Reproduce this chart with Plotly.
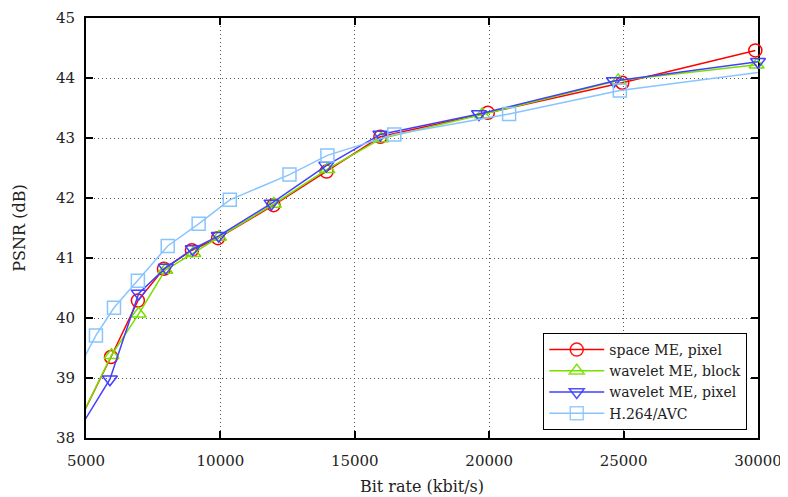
import plotly.graph_objects as go

# ---- data ----
space_pixel_x = [4000, 5930, 6930, 7900, 8940, 9910, 11980, 13950, 15950, 19950, 24950, 29900]
space_pixel_y = [37.60, 39.35, 40.29, 40.82, 41.13, 41.33, 41.88, 42.44, 43.02, 43.42, 43.92, 44.46]

wavelet_block_x = [4000, 5950, 6960, 7950, 8990, 9950, 11990, 13980, 15980, 19740, 24800, 29950]
wavelet_block_y = [37.60, 39.38, 40.07, 40.80, 41.08, 41.35, 41.90, 42.48, 42.99, 43.39, 43.96, 44.22]

wavelet_pixel_x = [4000, 5890, 6960, 7970, 8970, 9940, 11900, 13940, 15950, 19620, 24640, 30000]
wavelet_pixel_y = [37.60, 38.98, 40.41, 40.84, 41.15, 41.37, 41.91, 42.54, 43.06, 43.40, 43.95, 44.27]

h264_x = [4000, 5370, 6040, 6930, 8040, 9190, 10350, 12570, 13980, 16470, 20740, 24860, 32000]
h264_y = [38.55, 39.71, 40.17, 40.62, 41.20, 41.57, 41.97, 42.39, 42.71, 43.06, 43.40, 43.79, 44.21]

x_ticks = [5000, 10000, 15000, 20000, 25000, 30000]
y_ticks = [38, 39, 40, 41, 42, 43, 44, 45]
x_range = [5000, 30000]
y_range = [38, 45]

FONT = "DejaVu Serif"
FS = 16
TFS = 15

series = [
    ("space ME, pixel", space_pixel_x, space_pixel_y, "#ff0000", "circle-open"),
    ("wavelet ME, block", wavelet_block_x, wavelet_block_y, "#77e000", "triangle-up-open"),
    ("wavelet ME, pixel", wavelet_pixel_x, wavelet_pixel_y, "#4040ff", "triangle-down-open"),
    ("H.264/AVC", h264_x, h264_y, "#88c4ff", "square-open"),
]

fig = go.Figure()
for name, xs, ys, color, sym in series:
    op = [1 if x_range[0] <= x <= x_range[1] else 0 for x in xs]
    fig.add_trace(go.Scatter(
        x=xs, y=ys, name=name, mode="lines+markers",
        line=dict(color=color, width=1.5),
        marker=dict(symbol=sym, size=13, color=color, opacity=op,
                    line=dict(color=color, width=1.5)),
        cliponaxis=False,
    ))

axis_common = dict(
    showline=True, linecolor="black", linewidth=2, mirror="ticks",
    ticks="inside", ticklen=7, tickwidth=1.5, tickcolor="black",
    showgrid=True, gridcolor="#555555", griddash="1px,3px", gridwidth=1,
    zeroline=False, tickfont=dict(family=FONT, size=TFS, color="#222"),
    layer="below traces", automargin=False, ticklabeloverflow="allow",
)

fig.update_xaxes(range=x_range, tickvals=x_ticks, ticktext=[str(v) for v in x_ticks],
                 ticklabelstandoff=8,
                 title=dict(text="Bit rate (kbit/s)", font=dict(family=FONT, size=FS, color="#222"),
                            standoff=12),
                 **axis_common)
fig.update_yaxes(range=y_range, tickvals=y_ticks, ticktext=[str(v) for v in y_ticks],
                 ticklabelstandoff=6,
                 title=dict(text="PSNR (dB)", font=dict(family=FONT, size=FS, color="#222"),
                            standoff=26),
                 **axis_common)

fig.update_layout(
    width=788, height=497,
    margin=dict(l=78, r=38, t=10, b=67, autoexpand=False),
    paper_bgcolor="white", plot_bgcolor="white",
    font=dict(family=FONT, size=FS, color="#222"),
    legend=dict(x=0.984, y=0.019, xanchor="right", yanchor="bottom",
                bgcolor="white", bordercolor="black", borderwidth=1,
                font=dict(family=FONT, size=14, color="#222"),
                tracegroupgap=0, itemwidth=55),
)

fig.write_html("out.html")
